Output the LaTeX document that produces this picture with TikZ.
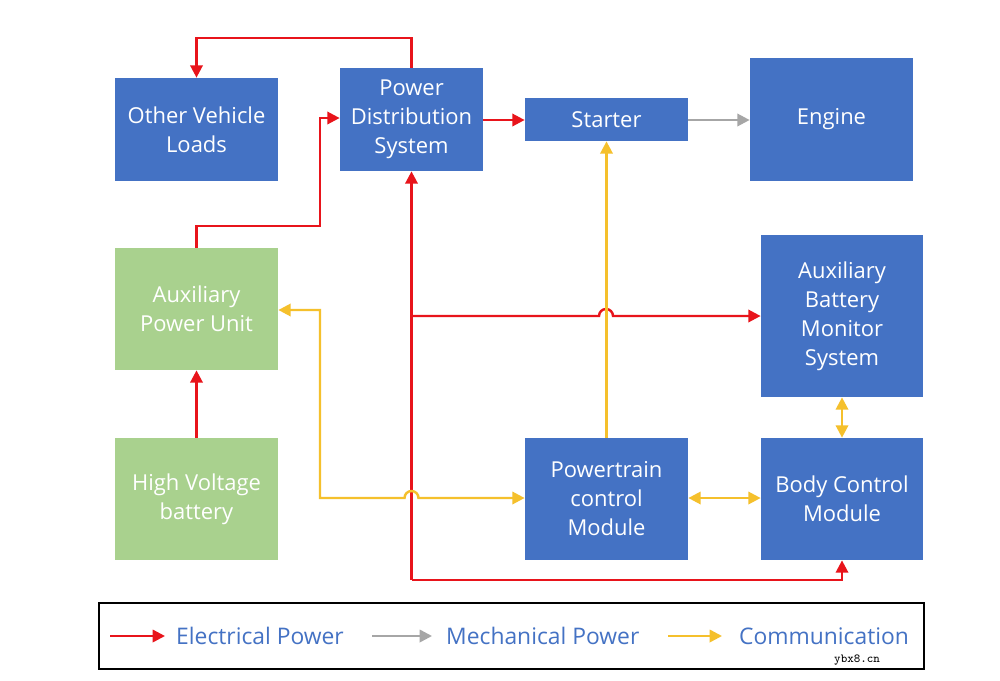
\documentclass[tikz,border=0pt]{standalone}
\usepackage{fontspec}
\setmainfont{Open Sans}
\usetikzlibrary{arrows.meta}
\definecolor{bx}{HTML}{4472C4}
\definecolor{gx}{HTML}{A9D18E}
\definecolor{rx}{HTML}{E8141B}
\definecolor{yx}{HTML}{F5C02C}
\definecolor{ax}{HTML}{A6A6A6}
\begin{document}
\begin{tikzpicture}[x=0.02cm,y=-0.02cm,
  box/.style={draw=none,fill=bx,text=white,align=center,font=\fontsize{12.5}{16.5}\selectfont,inner sep=0pt},
  gbox/.style={box,fill=gx},
  el/.style={rx,line width=1.4pt,-{Triangle[length=7pt,width=7pt]}},
  me/.style={ax,line width=1.4pt,-{Triangle[length=7pt,width=7pt]}},
  co/.style={yx,line width=1.4pt,-{Triangle[length=7pt,width=7pt]}},
  cob/.style={yx,line width=1.4pt,{Triangle[length=7pt,width=7pt]}-{Triangle[length=7pt,width=7pt]}},
  leg/.style={text=bx,anchor=west,font=\fontsize{13}{15}\selectfont}]
\useasboundingbox (0,0) rectangle (1000,680);
\fill[white] (0,0) rectangle (1000,680);
\node[box,minimum width=163*0.02cm,minimum height=103*0.02cm] (ovl) at (196.5,129.5) {Other Vehicle\\Loads};
\node[box,minimum width=143*0.02cm,minimum height=103*0.02cm] (pds) at (411.5,119.5) {Power\\Distribution\\System};
\node[box,minimum width=163*0.02cm,minimum height=43*0.02cm] (st) at (606.5,119.5) {Starter};
\node[box,minimum width=163*0.02cm,minimum height=123*0.02cm] (en) at (831.5,119.5) {Engine};
\node[gbox,minimum width=163*0.02cm,minimum height=122*0.02cm] (apu) at (196.5,309) {Auxiliary\\Power Unit};
\node[box,minimum width=162*0.02cm,minimum height=162*0.02cm] (abm) at (842,316) {Auxiliary\\Battery\\Monitor\\System};
\node[gbox,minimum width=163*0.02cm,minimum height=122*0.02cm] (hv) at (196.5,499) {High Voltage\\battery};
\node[box,minimum width=163*0.02cm,minimum height=122*0.02cm] (pcm) at (606.5,499) {Powertrain\\control\\Module};
\node[box,minimum width=162*0.02cm,minimum height=122*0.02cm] (bcm) at (842,499) {Body Control\\Module};
% connectors
\draw[el] (pds.north) |- (196.5,38) -- (ovl.north);
\draw[el] (apu.north) |- (320,226) |- (pds.west |- 0,118);
\draw[el] (pds.east |- 0,120) -- (st.west |- 0,120);
\draw[me] (st.east |- 0,120) -- (en.west |- 0,120);
\draw[el] (hv.north) -- (apu.south);
\coordinate (rc) at (411.5,580);
\draw[el] (rc) -- (pds.south);
\draw[el] (rc) -| (bcm.south);
\draw[el] (411.5,316) -- (599,316) arc(180:360:7) -- (abm.west |- 0,316);
\draw[co] (pcm.north) -- (st.south);
\draw[cob] (apu.east |- 0,310) -| (320,498) -- (404.5,498) arc(180:360:7) -- (pcm.west |- 0,498);
\draw[cob] (pcm.east |- 0,498) -- (bcm.west |- 0,498);
\draw[cob] (abm.south) -- (bcm.north);
% legend
\node[draw=black,line width=0.6pt,minimum width=825*0.02cm,minimum height=66*0.02cm,inner sep=0pt] (lg) at (511.5,636) {};
\coordinate (l1a) at (110,636); \coordinate (l1b) at (165,636);
\coordinate (l2a) at (372,636); \coordinate (l2b) at (432,636);
\coordinate (l3a) at (668,636); \coordinate (l3b) at (722,636);
\draw[el] (l1a) -- (l1b);
\draw[me] (l2a) -- (l2b);
\draw[co] (l3a) -- (l3b);
\node[leg] (t1) at (170,636) {Electrical Power};
\node[leg] (t2) at (440,636) {Mechanical Power};
\node[leg] (t3) at (733,636) {Communication};
\node[anchor=west,font=\fontsize{7}{8}\selectfont\ttfamily] (wm) at (828,660) {ybx8.cn};
\end{tikzpicture}
\end{document}
